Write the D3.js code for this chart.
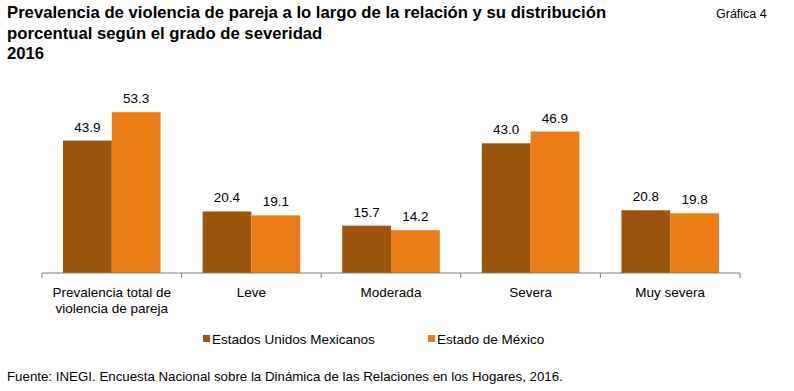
<!DOCTYPE html>
<html>
<head>
<meta charset="utf-8">
<script src="https://cdn.jsdelivr.net/npm/d3@7"></script>
<style>
  body { margin: 0; background: #fff; }
  text { font-family: "Liberation Sans", Arial, sans-serif; fill: #000; }
</style>
</head>
<body>
<svg></svg>
<script>
var width = 794,
    height = 391;

var categories = ["Prevalencia total de\nviolencia de pareja", "Leve", "Moderada", "Severa", "Muy severa"];
var seriesNames = ["Estados Unidos Mexicanos", "Estado de México"];
var nacional = [43.9, 20.4, 15.7, 43.0, 20.8];
var edomex = [53.3, 19.1, 14.2, 46.9, 19.8];
var colors = ["#9c550f", "#ea7d16"];

var svg = d3.select("svg")
    .attr("width", width)
    .attr("height", height);

// title
var title = svg.append("text")
    .attr("x", 7)
    .attr("font-size", 16.7)
    .attr("font-weight", "bold");
["Prevalencia de violencia de pareja a lo largo de la relación y su distribución",
 "porcentual según el grado de severidad", "2016"].forEach(function (t, i) {
    title.append("tspan").attr("x", 7).attr("y", 18 + i * 20.5).text(t);
});

svg.append("text")
    .attr("x", 716).attr("y", 18)
    .attr("font-size", 12.5)
    .text("Gráfica 4");

var baseY = 273;

var x = d3.scaleBand()
    .domain(categories)
    .range([42, 740])
    .paddingInner(0)
    .paddingOuter(0);

var inner = d3.scaleBand()
    .domain([0, 1])
    .range([21, x.bandwidth() - 21]);

var y = d3.scaleLinear()
    .domain([0, 60])
    .range([baseY, baseY - 181]);

var data = categories.map(function (c, i) {
    return { cat: c, values: [nacional[i], edomex[i]] };
});

var groups = svg.append("g")
    .selectAll("g")
    .data(data)
    .enter()
    .append("g")
    .attr("transform", function (d) { return "translate(" + x(d.cat) + ",0)"; });

groups.selectAll("rect")
    .data(function (d) { return d.values; })
    .enter()
    .append("rect")
    .attr("x", function (d, i) { return inner(i); })
    .attr("width", inner.bandwidth())
    .attr("y", function (d) { return y(d); })
    .attr("height", function (d) { return y(0) - y(d); })
    .attr("fill", function (d, i) { return colors[i]; });

groups.selectAll("text.val")
    .data(function (d) { return d.values; })
    .enter()
    .append("text")
    .attr("class", "val")
    .attr("x", function (d, i) { return inner(i) + inner.bandwidth() / 2; })
    .attr("y", function (d) { return y(d) - 9; })
    .attr("text-anchor", "middle")
    .attr("font-size", 13.5)
    .text(function (d) { return d.toFixed(1); });

// axis
var axis = svg.append("g")
    .attr("transform", "translate(0," + baseY + ")");

axis.append("line")
    .attr("x1", 42).attr("x2", 740)
    .attr("stroke", "#7f7f7f").attr("stroke-width", 1);

axis.selectAll("line.tick")
    .data(categories.map(function (c) { return x(c); }).concat([740]))
    .enter()
    .append("line")
    .attr("class", "tick")
    .attr("x1", function (d) { return d; })
    .attr("x2", function (d) { return d; })
    .attr("y1", 0).attr("y2", 5)
    .attr("stroke", "#7f7f7f");

axis.selectAll("text")
    .data(categories)
    .enter()
    .append("text")
    .attr("text-anchor", "middle")
    .attr("font-size", 13.5)
    .each(function (d) {
        var t = d3.select(this);
        d.split("\n").forEach(function (line, i) {
            t.append("tspan")
                .attr("x", x(d) + x.bandwidth() / 2)
                .attr("y", 24 + i * 16)
                .text(line);
        });
    });

// legend
var legendX = [203, 428];
var legend = svg.append("g")
    .selectAll("g")
    .data(seriesNames)
    .enter()
    .append("g")
    .attr("transform", function (d, i) { return "translate(" + legendX[i] + ",339)"; });

legend.append("rect")
    .attr("x", 0).attr("y", -4)
    .attr("width", 7).attr("height", 7)
    .attr("fill", function (d, i) { return colors[i]; });

legend.append("text")
    .attr("x", 9).attr("y", 5)
    .attr("font-size", 13.5)
    .text(function (d) { return d; });

svg.append("text")
    .attr("x", 7).attr("y", 381)
    .attr("font-size", 13.3)
    .text("Fuente: INEGI. Encuesta Nacional sobre la Dinámica de las Relaciones en los Hogares, 2016.");
</script>
</body>
</html>
